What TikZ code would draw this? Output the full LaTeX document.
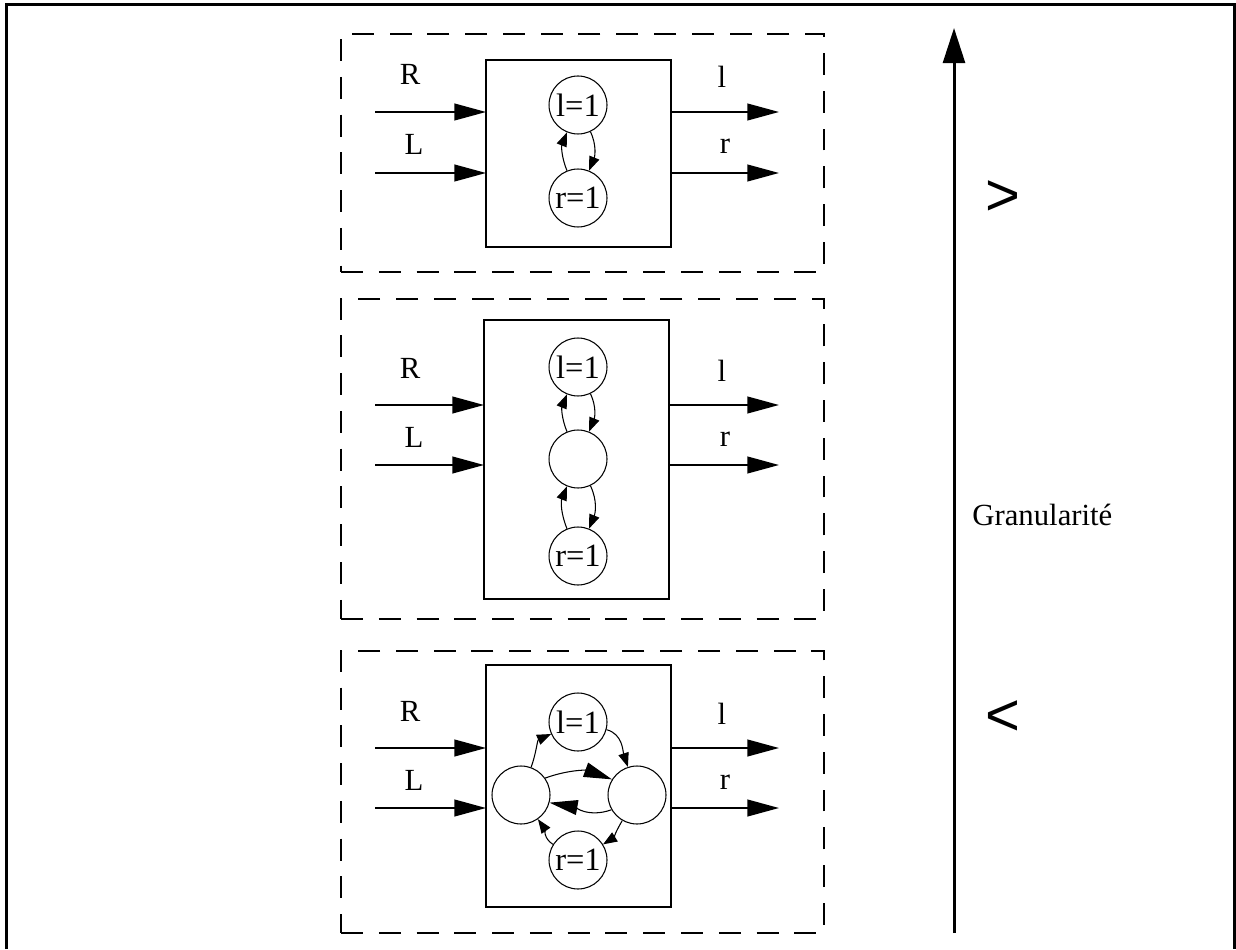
\documentclass[tikz,border=0pt]{standalone}
\usepackage{fontspec}
\setmainfont{Liberation Serif}
\newfontfamily\relfont{Liberation Sans}
\usetikzlibrary{arrows.meta, positioning}
\tikzset{
    panelbox/.style={rectangle, draw, line width=1.1pt, dash pattern=on 12.5pt off 9pt, outer sep=0pt},
    blockbox/.style={rectangle, draw, line width=1.1pt, minimum width=3.7cm, outer sep=0pt},
    statenode/.style={circle, draw, line width=0.6pt, minimum size=1.16cm, inner sep=0pt, font=\fontsize{18.5}{20}\selectfont},
    bigarrow/.style={-{Triangle[length=18pt, width=9.5pt]}, line width=1.1pt},
    smallarrow/.style={-{Triangle[length=8pt, width=6pt]}, line width=0.6pt},
    wideturn/.style={-{Triangle[length=16pt, width=8.5pt]}, line width=0.6pt},
}

\begin{document}
\begin{tikzpicture}[
    x=0.02cm, y=-0.02cm,
    sig/.style={font=\fontsize{17.5}{20}\selectfont, anchor=base, inner sep=0pt},
    rel/.style={font=\relfont\fontsize{34}{36}\selectfont, inner sep=0pt}
]
\useasboundingbox (0,0) rectangle (1236,949);

% Frame (open at the bottom)
\coordinate (frame-bl) at (6.5,949);
\coordinate (frame-tl) at (6.5,4.5);
\coordinate (frame-tr) at (1234.5,4.5);
\coordinate (frame-br) at (1234.5,949);
\draw[line width=1.7pt] (frame-bl) -- (frame-tl) -- (frame-tr) -- (frame-br);

% Panel 1: two states
\node[panelbox, minimum width=9.66cm, minimum height=4.76cm] (p1-panel) at (582.5,153) {};
\node[blockbox, minimum height=3.74cm] (p1-box) at (578.5,153.5) {};
\node[statenode] (p1-l) at (578,105) {l=1};
\node[statenode] (p1-r) at (578,198) {r=1};
\draw[smallarrow] (p1-r) to[out=112, in=248] (p1-l);
\draw[smallarrow] (p1-l) to[out=-65, in=68] (p1-r);
\coordinate (p1-in1) at (375,112);
\coordinate (p1-in2) at (375,173);
\coordinate (p1-out1) at (779,112);
\coordinate (p1-out2) at (779,173);
\draw[bigarrow] (p1-in1) -- (p1-in1 -| p1-box.west);
\draw[bigarrow] (p1-in2) -- (p1-in2 -| p1-box.west);
\draw[bigarrow] (p1-out1 -| p1-box.east) -- (p1-out1);
\draw[bigarrow] (p1-out2 -| p1-box.east) -- (p1-out2);
\node[sig] (p1-R) at (410,85) {R};
\node[sig] (p1-L) at (414,155) {L};
\node[sig] (p1-lo) at (722,88) {l};
\node[sig] (p1-ro) at (725,154) {r};

% Panel 2: three states in a chain
\node[panelbox, minimum width=9.66cm, minimum height=6.4cm] (p2-panel) at (582.5,459) {};
\node[blockbox, minimum height=5.58cm] (p2-box) at (576.5,459.5) {};
\node[statenode] (p2-l) at (578,367) {l=1};
\node[statenode] (p2-m) at (578,459) {};
\node[statenode] (p2-r) at (578,556) {r=1};
\draw[smallarrow] (p2-m) to[out=112, in=248] (p2-l);
\draw[smallarrow] (p2-l) to[out=-65, in=68] (p2-m);
\draw[smallarrow] (p2-r) to[out=112, in=248] (p2-m);
\draw[smallarrow] (p2-m) to[out=-65, in=68] (p2-r);
\coordinate (p2-in1) at (375,405);
\coordinate (p2-in2) at (375,465);
\coordinate (p2-out1) at (779,405);
\coordinate (p2-out2) at (779,465);
\draw[bigarrow] (p2-in1) -- (p2-in1 -| p2-box.west);
\draw[bigarrow] (p2-in2) -- (p2-in2 -| p2-box.west);
\draw[bigarrow] (p2-out1 -| p2-box.east) -- (p2-out1);
\draw[bigarrow] (p2-out2 -| p2-box.east) -- (p2-out2);
\node[sig] (p2-R) at (410,378) {R};
\node[sig] (p2-L) at (414,447) {L};
\node[sig] (p2-lo) at (722,381) {l};
\node[sig] (p2-ro) at (725,446) {r};

% Panel 3: four states in a ring
\node[panelbox, minimum width=9.66cm, minimum height=5.64cm] (p3-panel) at (582.5,792) {};
\node[blockbox, minimum height=4.84cm] (p3-box) at (578.5,786) {};
\node[statenode] (p3-l) at (578,722) {l=1};
\node[statenode] (p3-r) at (578,860) {r=1};
\node[statenode] (p3-w) at (521,795) {};
\node[statenode] (p3-e) at (637,795) {};
\draw[smallarrow] (p3-w) to[out=70, in=204] (p3-l);
\draw[smallarrow] (p3-l) to[out=-15, in=108] (p3-e);
\draw[smallarrow] (p3-e) to[out=240, in=32] (p3-r);
\draw[smallarrow] (p3-r) to[out=148, in=-55] (p3-w);
\draw[wideturn] (p3-w.35) to[out=20, in=160] (p3-e.148);
\draw[wideturn] (p3-e.210) to[out=200, in=-10] (p3-w.-15);
\coordinate (p3-in1) at (375,748);
\coordinate (p3-in2) at (375,808);
\coordinate (p3-out1) at (779,748);
\coordinate (p3-out2) at (779,808);
\draw[bigarrow] (p3-in1) -- (p3-in1 -| p3-box.west);
\draw[bigarrow] (p3-in2) -- (p3-in2 -| p3-box.west);
\draw[bigarrow] (p3-out1 -| p3-box.east) -- (p3-out1);
\draw[bigarrow] (p3-out2 -| p3-box.east) -- (p3-out2);
\node[sig] (p3-R) at (410,721) {R};
\node[sig] (p3-L) at (414,790) {L};
\node[sig] (p3-lo) at (722,724) {l};
\node[sig] (p3-ro) at (725,789) {r};

% Granularity axis
\coordinate (axis-bot) at (954,933);
\coordinate (axis-top) at (954,28);
\draw[-{Triangle[length=20pt, width=12.5pt]}, line width=1.7pt] (axis-bot) -- (axis-top);
\node[rel] (gt) at (1003,198) {>};
\node[sig, anchor=base west] (gran) at (972,525) {Granularité};
\node[rel] (lt) at (1003,718) {<};

\end{tikzpicture}
\end{document}
